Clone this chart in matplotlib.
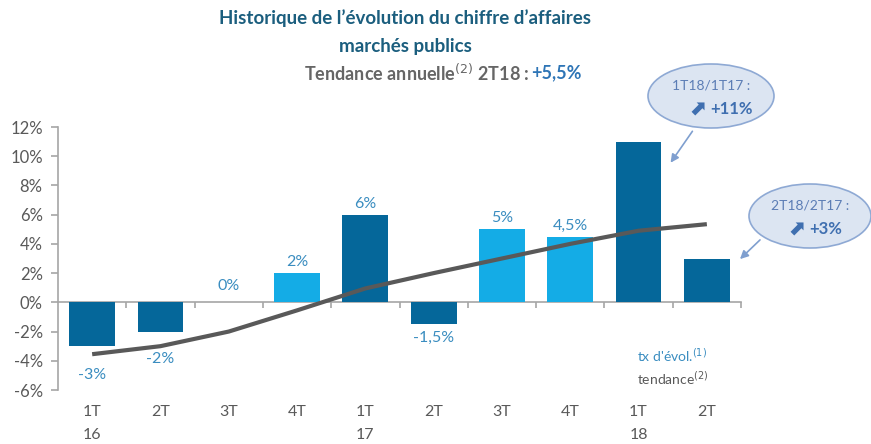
import matplotlib
matplotlib.use("Agg")
import matplotlib.pyplot as plt
from matplotlib.patches import Ellipse, FancyArrowPatch
import matplotlib.transforms as mtransforms

# ---- data ----
quarters = ["1T", "2T", "3T", "4T", "1T", "2T", "3T", "4T", "1T", "2T"]
years = ["16", "", "", "", "17", "", "", "", "18", ""]
tx_evol = [-3, -2, 0, 2, 6, -1.5, 5, 4.5, 11, 3]
tx_labels = ["-3%", "-2%", "0%", "2%", "6%", "-1,5%", "5%", "4,5%", "", ""]
bar_kind = ["dark", "dark", "dark", "light", "dark", "dark", "light", "light", "dark", "dark"]
tendance = [-3.55, -3.0, -2.0, -0.55, 0.95, 2.0, 3.0, 4.0, 4.9, 5.35]
yticks = [-6, -4, -2, 0, 2, 4, 6, 8, 10, 12]

# label vertical offsets (points) to mimic manual placement
label_off = [-21, -20, 12, 8, 8, -10, 8, 8, 0, 0]

DARK = "#05679A"
LIGHT = "#14ACE6"
LBL = "#3A8DC0"
GRAY = "#595959"
AXIS = "#A6A6A6"
TITLE = "#1B5E7E"

plt.rcParams['font.family'] = ['Lato', 'DejaVu Sans']

W, H = 871, 444
fig = plt.figure(figsize=(W / 100, H / 100), dpi=100)
ax = fig.add_axes([58 / W, 1 - 390 / H, (741 - 58) / W, (390 - 127) / H])

x = list(range(len(quarters)))
colors = [DARK if k == "dark" else LIGHT for k in bar_kind]
ax.bar(x, tx_evol, width=0.67, color=colors, zorder=2)
ax.plot(x, tendance, color=GRAY, lw=3, solid_capstyle='butt', zorder=3)

for i, (v, lab) in enumerate(zip(tx_evol, tx_labels)):
    if not lab:
        continue
    ax.annotate(lab, (i, v), xytext=(0, label_off[i]), textcoords='offset points',
                ha='center', va='center', color=LBL, fontsize=11.5)

ax.set_xlim(-0.5, len(x) - 0.5)
ax.set_ylim(-6, 12)
ax.set_yticks(yticks)
ax.set_yticklabels([f"{t}%" for t in yticks], color=GRAY, fontsize=12)
ax.tick_params(axis='y', direction='out', length=5, color=AXIS, width=1.2, pad=6)

for s in ['top', 'right']:
    ax.spines[s].set_visible(False)
ax.spines['left'].set_color(AXIS)
ax.spines['left'].set_linewidth(1.2)
ax.spines['bottom'].set_position(('data', 0))
ax.spines['bottom'].set_color(AXIS)
ax.spines['bottom'].set_linewidth(1.2)
ax.spines['bottom'].set_zorder(1)
ax.set_xticks([i + 0.5 for i in x])
ax.set_xticklabels([])
ax.tick_params(axis='x', direction='out', length=4, color=AXIS, width=1.2)

trans = mtransforms.blended_transform_factory(ax.transData, fig.transFigure)
for i, (q, yv) in enumerate(zip(quarters, years)):
    ax.text(i, 1 - 412 / H, q, transform=trans, ha='center', va='center', color=GRAY, fontsize=11.5)
    if yv:
        ax.text(i, 1 - 435 / H, yv, transform=trans, ha='center', va='center', color=GRAY, fontsize=11.5)

# titles
fig.text(405 / W, 1 - 18 / H, "Historique de l\u2019évolution du chiffre d\u2019affaires",
         ha='center', va='center', color=TITLE, fontsize=13.5, fontweight='bold')
fig.text(405 / W, 1 - 46 / H, "marchés publics",
         ha='center', va='center', color=TITLE, fontsize=13.5, fontweight='bold')
fig.text(531 / W, 1 - 73 / H, "Tendance annuelle$^{(2)}$ 2T18 : ",
         ha='right', va='center', color="#666666", fontsize=13, fontweight='bold')
fig.text(531 / W, 1 - 73 / H, "+5,5%", ha='left', va='center', color="#2E75B6",
         fontsize=13, fontweight='bold')

# legend text
fig.text(637 / W, 1 - 355 / H, "tx d'évol.$^{(1)}$", ha='left', va='center', color=LBL, fontsize=10)
fig.text(637 / W, 1 - 378 / H, "tendance$^{(2)}$", ha='left', va='center', color=GRAY, fontsize=10)

# callouts
def callout(cx, cy, w, h, l1, pct, a0, a1):
    e = Ellipse((cx / W, 1 - cy / H), w / W, h / H, transform=fig.transFigure,
                facecolor="#DCE5F2", edgecolor="#8EA9D4", lw=1.2, zorder=5)
    fig.add_artist(e)
    fig.text(cx / W, 1 - (cy - 11) / H, l1, ha='center', va='center', color="#5B7DB5",
             fontsize=10, zorder=6)
    fig.text((cx - 5) / W, 1 - (cy + 13) / H, "\u2b08", ha='right', va='center', color="#3F6FB0",
             fontsize=15, fontweight='bold', zorder=6, family='DejaVu Sans')
    fig.text((cx - 1) / W, 1 - (cy + 13) / H, pct, ha='left', va='center', color="#3F6FB0",
             fontsize=12, fontweight='bold', zorder=6)
    arr = FancyArrowPatch((a0[0] / W, 1 - a0[1] / H), (a1[0] / W, 1 - a1[1] / H),
                          transform=fig.transFigure, arrowstyle='-|>', mutation_scale=12,
                          color="#7F9FCF", lw=1.2, zorder=4)
    fig.add_artist(arr)

callout(711, 96, 126, 64, "1T18/1T17 :", "+11%", (694, 129), (669, 165))
callout(810, 216, 122, 64, "2T18/2T17 :", "+3%", (762, 238), (738, 261))

fig.savefig("out.png", dpi=100)
